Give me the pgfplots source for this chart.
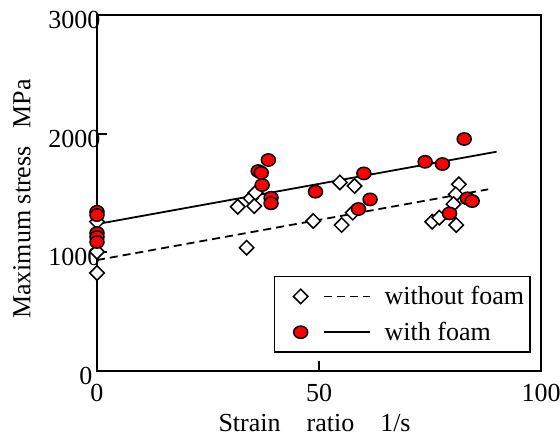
\documentclass[border=0pt]{standalone}
\usepackage{fontspec}
\setmainfont{Liberation Serif}
\usepackage{pgfplots}
\pgfplotsset{compat=1.18}
\newcommand\bigf{\fontsize{26bp}{30bp}\selectfont}
\begin{document}
\begin{tikzpicture}
\useasboundingbox (-97bp,-66bp) rectangle (463bp,371bp);
\begin{axis}[
    scale only axis, width=444bp, height=356bp,
    xmin=0, xmax=100, ymin=0, ymax=3000,
    xtick={0,50,100}, ytick={0,1000,2000,3000},
    yticklabels={0\hspace*{8bp},1000,2000,3000},
    tick pos=left, tick align=inside, major tick length=10bp,
    every tick/.style={black, line width=1.8bp},
    axis line style={line width=1.8bp},
    clip=false,
    /pgf/number format/assume math mode=true,
    /pgf/number format/1000 sep={},
    tick label style={font=\bigf},
    yticklabel style={xshift=7bp, yshift=-5bp},
    xticklabel style={yshift=-10bp},
    xlabel={Strain\quad ratio\quad 1/s},
    xlabel style={font=\bigf, at={(axis description cs:0.49,0)}, anchor=base, yshift=-60bp},
    ylabel={Maximum stress\hspace{18bp}MPa},
    ylabel style={font=\bigf, at={(axis description cs:-0.169,0.483)}, anchor=center, rotate=0},
    legend style={font=\bigf, at={(axis description cs:0.977,0.051)}, anchor=south east,
      draw=black, line width=1.5bp, inner xsep=4bp, inner ysep=8bp, row sep=12bp},
    legend cell align=left,
  ]
  % fitted lines
  \addplot[forget plot, black, line width=1.8bp, dash pattern=on 8bp off 5bp] coordinates {(0,935) (88.1,1531)};
  \addplot[forget plot, black, line width=1.8bp] coordinates {(0,1238) (90,1848)};
  % without foam
  \addplot[forget plot, only marks, mark=square*, mark size=5.1bp,
    mark options={rotate=45, fill=white, draw=black, line width=1.5bp}] coordinates {
    (0,1258) (0,1005) (0,826)
    (31.7,1384) (34.6,1455) (35.4,1390) (35.7,1502) (33.7,1039)
    (48.7,1264) (54.7,1589) (58,1559) (55.1,1230) (57.6,1334)
    (81.5,1573) (80.8,1489) (80.3,1407) (75.5,1258) (77.1,1292) (80.9,1230)
  };
  % with foam
  \addplot[forget plot, only marks, mark=*, mark size=7bp,
    mark options={yscale=0.88, fill=red, draw=black, line width=1.5bp}] coordinates {
    (0,1342) (0,1314) (0,1163) (0,1129) (0,1087)
    (36.3,1685) (37.0,1670) (38.6,1778) (37.2,1567) (39.2,1460) (39.2,1413)
    (49.2,1511) (60.1,1665) (61.5,1446) (58.9,1365)
    (73.9,1763) (77.8,1744) (82.7,1955) (83.4,1455) (84.5,1432) (79.4,1328)
  };
  \addlegendimage{legend image code/.code={
    \path[draw=none] (0bp,0bp) (104bp,0bp);
    \draw[black, line width=1.5bp, fill=white] plot[mark=square*, mark size=5.1bp,
      mark options={rotate=45}] coordinates {(22bp,0bp)};
    \draw[black, line width=1.8bp, dash pattern=on 8bp off 5bp] (45bp,0bp) -- (91bp,0bp);
  }}
  \addlegendentry{without foam}
  \addlegendimage{legend image code/.code={
    \path[draw=none] (0bp,0bp) (104bp,0bp);
    \draw[black, line width=1.5bp, fill=red] plot[mark=*, mark size=7bp,
      mark options={yscale=0.88}] coordinates {(22bp,0bp)};
    \draw[black, line width=1.8bp] (45bp,0bp) -- (91bp,0bp);
  }}
  \addlegendentry{with foam}
\end{axis}
\end{tikzpicture}
\end{document}
